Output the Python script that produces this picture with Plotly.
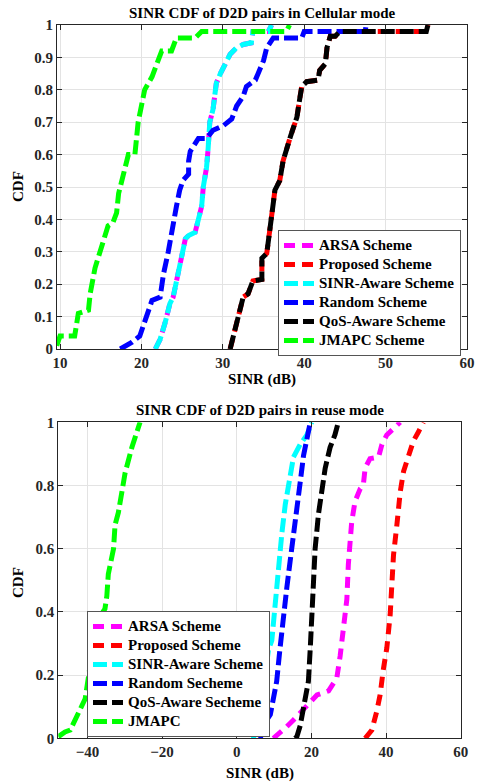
import plotly.graph_objects as go

# ---------- Top panel: Cellular mode ----------
arsa_top_x = [21.7, 22.3, 22.9, 23.5, 23.9, 24.5, 24.9, 25.4, 25.8, 26.6, 27.0, 27.4, 27.6, 28.0, 28.2, 28.4, 28.8, 29.0, 29.2, 29.7, 30.3, 30.9, 31.7, 32.5, 33.5, 33.7, 35.6, 36.0]
arsa_top_y = [0.0, 0.03, 0.08, 0.14, 0.16, 0.24, 0.29, 0.34, 0.35, 0.36, 0.40, 0.44, 0.50, 0.56, 0.62, 0.70, 0.74, 0.78, 0.82, 0.85, 0.88, 0.91, 0.93, 0.94, 0.945, 0.98, 0.98, 1.0]
prop_top_x = [30.9, 31.3, 31.9, 32.5, 33.1, 33.7, 34.8, 34.8, 35.4, 35.8, 36.2, 36.4, 37.0, 37.4, 37.8, 38.3, 38.7, 39.1, 39.5, 39.7, 40.3, 41.7, 41.9, 42.6, 42.8, 43.2, 43.8, 44.4, 55.0, 55.2]
prop_top_y = [0.0, 0.04, 0.11, 0.16, 0.17, 0.21, 0.215, 0.28, 0.295, 0.36, 0.45, 0.49, 0.52, 0.58, 0.62, 0.655, 0.685, 0.715, 0.78, 0.81, 0.825, 0.83, 0.86, 0.88, 0.93, 0.965, 0.965, 0.98, 0.98, 1.0]
sinr_top_x = [21.7, 22.3, 22.9, 23.5, 23.9, 24.5, 24.9, 25.4, 25.8, 26.6, 27.0, 27.4, 27.6, 28.0, 28.2, 28.4, 28.8, 29.0, 29.2, 29.7, 30.3, 30.9, 31.7, 32.5, 33.5, 33.7, 35.6, 36.0]
sinr_top_y = [0.0, 0.03, 0.08, 0.14, 0.16, 0.24, 0.29, 0.34, 0.35, 0.36, 0.40, 0.44, 0.50, 0.56, 0.62, 0.70, 0.74, 0.78, 0.82, 0.85, 0.88, 0.91, 0.93, 0.94, 0.945, 0.98, 0.98, 1.0]
rand_top_x = [17.4, 18.8, 19.8, 20.4, 21.3, 22.3, 22.5, 22.7, 23.3, 23.7, 23.9, 24.3, 24.7, 25.1, 25.8, 25.8, 26.0, 27.0, 28.0, 28.4, 28.8, 30.1, 31.1, 31.7, 32.5, 32.9, 34.0, 35.0, 35.4, 36.2, 39.7, 40.0, 47.5, 47.6]
rand_top_y = [0.0, 0.02, 0.04, 0.08, 0.15, 0.16, 0.20, 0.23, 0.30, 0.36, 0.40, 0.44, 0.49, 0.52, 0.54, 0.58, 0.61, 0.65, 0.65, 0.66, 0.675, 0.69, 0.71, 0.75, 0.78, 0.81, 0.83, 0.89, 0.93, 0.96, 0.96, 0.98, 0.98, 1.0]
qos_top_x = [30.9, 31.3, 31.9, 32.5, 33.1, 33.7, 34.8, 34.8, 35.4, 35.8, 36.2, 36.4, 37.0, 37.4, 37.8, 38.3, 38.7, 39.1, 39.5, 39.7, 40.3, 41.7, 41.9, 42.6, 42.8, 43.2, 43.8, 44.4, 55.0, 55.2]
qos_top_y = [0.0, 0.04, 0.11, 0.16, 0.17, 0.21, 0.215, 0.28, 0.295, 0.36, 0.45, 0.49, 0.52, 0.58, 0.62, 0.655, 0.685, 0.715, 0.78, 0.81, 0.825, 0.83, 0.86, 0.88, 0.93, 0.965, 0.965, 0.98, 0.98, 1.0]
jmapc_top_x = [9.6, 10.0, 11.8, 12.25, 13.5, 13.7, 14.3, 15.1, 15.9, 16.5, 16.95, 17.2, 18.0, 18.4, 19.2, 19.6, 20.0, 20.4, 21.3, 22.1, 22.5, 23.7, 24.3, 26.6, 27.4, 37.8, 38.2]
jmapc_top_y = [0.01, 0.04, 0.04, 0.11, 0.12, 0.17, 0.25, 0.31, 0.38, 0.39, 0.42, 0.48, 0.56, 0.60, 0.60, 0.70, 0.75, 0.80, 0.84, 0.90, 0.92, 0.92, 0.96, 0.96, 0.98, 0.98, 1.0]

# ---------- Bottom panel: reuse mode ----------
arsa_bot_x = [9.8, 11.6, 13.4, 15.2, 17.4, 19.7, 21.5, 24.6, 26.8, 27.7, 28.6, 29.5, 29.9, 30.4, 30.8, 31.7, 33.1, 33.9, 34.4, 35.7, 38.0, 38.9, 40.2, 42.0, 43.8]
arsa_bot_y = [0.0, 0.017, 0.037, 0.058, 0.085, 0.116, 0.137, 0.15, 0.19, 0.26, 0.34, 0.44, 0.55, 0.62, 0.685, 0.75, 0.79, 0.80, 0.855, 0.885, 0.89, 0.93, 0.96, 0.98, 1.0]
prop_bot_x = [34.4, 36.2, 37.5, 38.4, 39.3, 40.2, 41.1, 41.6, 42.0, 42.9, 43.8, 44.7, 46.0, 47.3, 48.7, 50.0]
prop_bot_y = [0.0, 0.026, 0.085, 0.137, 0.22, 0.285, 0.39, 0.495, 0.58, 0.675, 0.78, 0.845, 0.895, 0.94, 0.97, 1.0]
sinr_bot_x = [4.5, 4.9, 5.4, 6.3, 7.1, 8.5, 9.4, 10.3, 11.2, 12.1, 13.0, 14.3, 15.2, 17.0, 18.8, 20.1]
sinr_bot_y = [0.0, 0.04, 0.05, 0.075, 0.15, 0.28, 0.31, 0.43, 0.55, 0.65, 0.74, 0.83, 0.89, 0.93, 0.96, 1.0]
rand_bot_x = [6.3, 7.6, 9.0, 10.7, 11.6, 12.5, 13.4, 14.3, 15.2, 16.1, 17.0, 17.9, 18.8, 19.7]
rand_bot_y = [0.0, 0.05, 0.075, 0.18, 0.285, 0.39, 0.475, 0.56, 0.635, 0.71, 0.81, 0.895, 0.95, 1.0]
qos_bot_x = [15.6, 16.1, 17.0, 17.9, 19.2, 19.7, 20.1, 20.5, 21.0, 21.9, 22.8, 23.7, 25.0, 26.3, 27.2]
qos_bot_y = [0.0, 0.005, 0.04, 0.095, 0.18, 0.285, 0.39, 0.495, 0.60, 0.71, 0.79, 0.855, 0.92, 0.96, 1.0]
jmapc_bot_x = [-47.8, -46.0, -44.6, -43.3, -42.0, -40.6, -37.5, -35.3, -34.8, -34.4, -33.0, -32.6, -31.7, -30.8, -29.9, -28.1, -25.9]
jmapc_bot_y = [0.005, 0.02, 0.026, 0.06, 0.095, 0.125, 0.37, 0.41, 0.45, 0.52, 0.60, 0.675, 0.715, 0.78, 0.84, 0.92, 1.0]

top_names = ["ARSA Scheme", "Proposed Scheme", "SINR-Aware Scheme", "Random Scheme", "QoS-Aware Scheme", "JMAPC Scheme"]
bot_names = ["ARSA Scheme", "Proposed Scheme", "SINR-Aware Scheme", "Random Secheme", "QoS-Aware Secheme", "JMAPC"]
x_ticks_top = [10, 20, 30, 40, 50, 60]
x_ticks_bot = [-40, -20, 0, 20, 40, 60]
y_ticks_top = [0, 0.1, 0.2, 0.3, 0.4, 0.5, 0.6, 0.7, 0.8, 0.9, 1]
y_labels_top = ["0", "0.1", "0.2", "0.3", "0.4", "0.5", "0.6", "0.7", "0.8", "0.9", "1"]
y_ticks_bot = [0, 0.2, 0.4, 0.6, 0.8, 1]
y_labels_bot = ["0", "0.2", "0.4", "0.6", "0.8", "1"]

colors = ["#FF00FF", "#FF0000", "#00FFFF", "#0000FF", "#000000", "#00FF00"]
dashes = ["11px,7px", "11px,7px", "14px,5px", "14px,5px", "14px,5px", "14px,5px"]

top_data = [(arsa_top_x, arsa_top_y), (prop_top_x, prop_top_y), (sinr_top_x, sinr_top_y),
            (rand_top_x, rand_top_y), (qos_top_x, qos_top_y), (jmapc_top_x, jmapc_top_y)]
bot_data = [(arsa_bot_x, arsa_bot_y), (prop_bot_x, prop_bot_y), (sinr_bot_x, sinr_bot_y),
            (rand_bot_x, rand_bot_y), (qos_bot_x, qos_bot_y), (jmapc_bot_x, jmapc_bot_y)]

FONT = "Liberation Serif"
W, H = 477, 782


def lg(name):
    return '<span style="font-size:15px">' + name + '</span>'


fig = go.Figure()
for (x, y), n, c, d in zip(top_data, top_names, colors, dashes):
    fig.add_trace(go.Scatter(x=x, y=y, mode="lines", name=lg(n), xaxis="x", yaxis="y",
                             line=dict(color=c, width=5, dash=d), legend="legend"))
for (x, y), n, c, d in zip(bot_data, bot_names, colors, dashes):
    fig.add_trace(go.Scatter(x=x, y=y, mode="lines", name=lg(n), xaxis="x2", yaxis="y2",
                             line=dict(color=c, width=5, dash=d), legend="legend2"))

tickfont = dict(family=FONT, size=15, color="#262626", weight="bold")
axcommon = dict(showline=True, linecolor="#262626", linewidth=1, mirror="ticks",
                ticks="inside", ticklen=5, tickcolor="#262626", showgrid=True,
                gridcolor="#e3e3e3", gridwidth=1, zeroline=False, tickfont=tickfont,
                automargin=False)

top_dom_x = [57 / W, 467 / W]
top_dom_y = [1 - 349 / H, 1 - 25 / H]
bot_dom_x = [58.3 / W, 460.7 / W]
bot_dom_y = [1 - 738.3 / H, 1 - 422.3 / H]

legfont = dict(family=FONT, size=11.8, color="#000", weight="bold")
fig.update_layout(
    width=W, height=H, margin=dict(l=0, r=0, t=0, b=0, autoexpand=False),
    paper_bgcolor="white", plot_bgcolor="white",
    xaxis=dict(domain=top_dom_x, anchor="y", range=[9.63, 60], tickvals=x_ticks_top, **axcommon),
    yaxis=dict(domain=top_dom_y, anchor="x", range=[0, 1], tickvals=y_ticks_top, ticktext=y_labels_top, **axcommon),
    xaxis2=dict(domain=bot_dom_x, anchor="y2", range=[-47.8, 60], tickvals=x_ticks_bot, **axcommon),
    yaxis2=dict(domain=bot_dom_y, anchor="x2", range=[0, 1], tickvals=y_ticks_bot, ticktext=y_labels_bot, **axcommon),
    legend=dict(x=461 / W, xanchor="right", y=1 - 230 / H, yanchor="top", bgcolor="white",
                bordercolor="#555555", borderwidth=1, font=legfont, tracegroupgap=0),
    legend2=dict(x=87 / W, xanchor="left", y=1 - 611 / H, yanchor="top", bgcolor="white",
                 bordercolor="#555555", borderwidth=1, font=legfont, tracegroupgap=0),
    showlegend=True,
)

ann_font = dict(family=FONT, size=15, color="#000", weight="bold")
anns = [
    dict(text="SINR CDF of D2D pairs in Cellular mode", x=262 / W, y=1 - 13 / H),
    dict(text="SINR CDF of D2D pairs in reuse mode", x=260 / W, y=1 - 410 / H),
    dict(text="SINR (dB)", x=262 / W, y=1 - 380 / H),
    dict(text="SINR (dB)", x=260 / W, y=1 - 773 / H),
]
for a in anns:
    fig.add_annotation(xref="paper", yref="paper", showarrow=False, xanchor="center", yanchor="middle",
                       font=ann_font, **a)
for yy in [187, 583]:
    fig.add_annotation(text="CDF", xref="paper", yref="paper", x=18 / W, y=1 - yy / H, showarrow=False,
                       textangle=-90, xanchor="center", yanchor="middle", font=ann_font)

fig.write_html("out.html", post_script="document.body.style.margin='0';")
